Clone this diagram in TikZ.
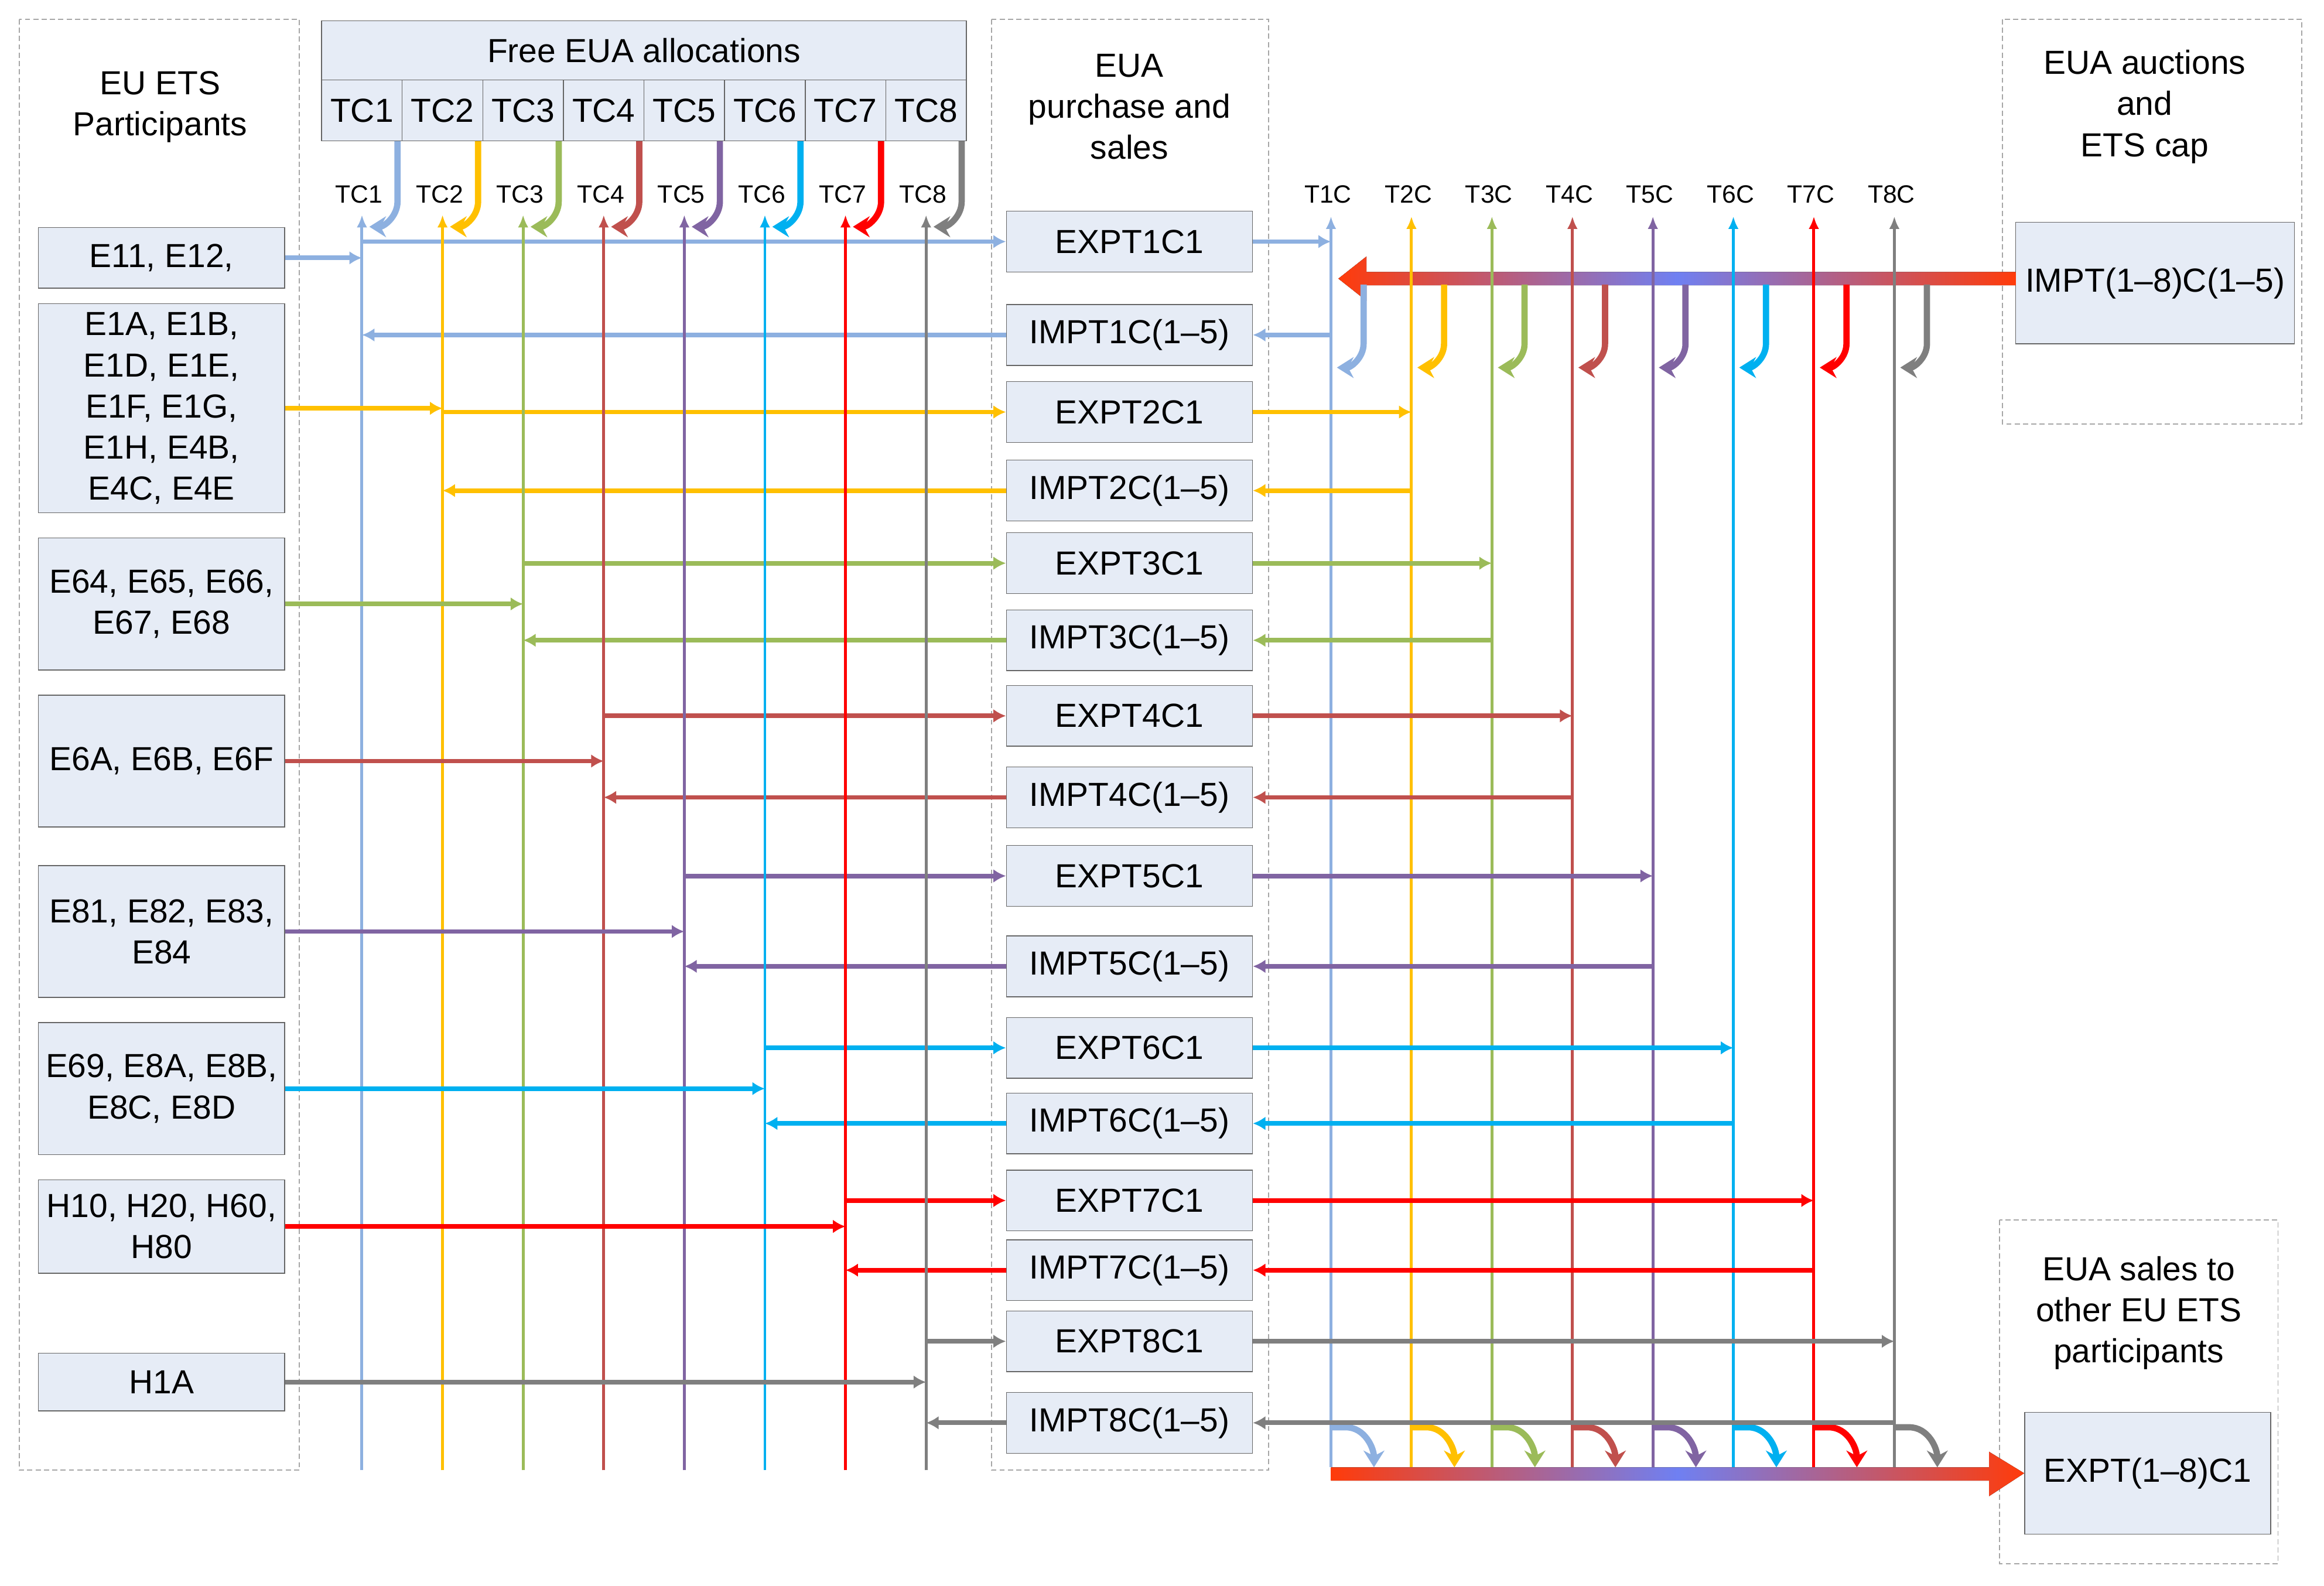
\documentclass[tikz,border=0pt]{standalone}
\usepackage{fontspec}
\setmainfont{Liberation Sans}
\usetikzlibrary{arrows.meta,calc}

\definecolor{tcblue}{HTML}{8DB0E0}
\definecolor{tcgold}{HTML}{FFC000}
\definecolor{tcgreen}{HTML}{9BBB59}
\definecolor{tcbrown}{HTML}{C0504D}
\definecolor{tcpurple}{HTML}{8064A2}
\definecolor{tccyan}{HTML}{00B0F0}
\definecolor{tcred}{HTML}{FF0000}
\definecolor{tcgray}{HTML}{7F7F7F}
\definecolor{boxfill}{HTML}{E6ECF6}
\definecolor{bigred}{HTML}{FF3B0A}
\definecolor{bigblue}{HTML}{6F80F2}

\begin{document}
\begin{tikzpicture}[x=0.025cm, y=-0.025cm,
	every node/.style={font=\fontsize{16}{19.7}\selectfont, align=center, inner sep=0pt},
	pbox/.style={rectangle, draw=gray!80!black, fill=boxfill, minimum width=4.15cm, minimum height=1.025cm},
	cell/.style={rectangle, draw=gray!80!black, fill=boxfill, minimum width=1.359cm, minimum height=1.025cm},
	frame/.style={draw=gray!70, dash pattern=on 2.5pt off 1.5pt, line width=0.5pt},
	small/.style={font=\fontsize{12}{14}\selectfont},
	vline/.style={line width=1.4pt, -{Latex[length=6pt,width=5pt]}},
	hflow/.style={line width=2.2pt, -{Latex[length=6pt,width=6.5pt]}},
	curlarrow/.style={line width=3pt, -{Stealth[length=8pt,width=10pt]}},
	bigarrow/.style={left color=bigred, right color=bigred, middle color=bigblue}]
	\useasboundingbox (0,0) rectangle (1568,1070);

	\draw[frame] (13,13) rectangle (202,992);
	\node (ttl1) at (108,72) {EU ETS\\Participants};
	\draw[frame] (669,13) rectangle (856,992);
	\node (ttl2) at (762,72) {EUA\\purchase and\\sales};
	\draw[frame] (1351,13) rectangle (1553,286);
	\node (ttl3) at (1447,72) {EUA auctions\\and\\ETS cap};
	\draw[frame] (1349,823) rectangle (1537,1055);
	\node (ttl4) at (1443,886) {EUA sales to\\other EU ETS\\participants};

	\node[pbox] (p1) at (109,174) {E11, E12,};
	\node[pbox, minimum height=3.525cm] (p2) at (109,275.5) {E1A, E1B,\\E1D, E1E,\\E1F, E1G,\\E1H, E4B,\\E4C, E4E};
	\node[pbox, minimum height=2.225cm] (p3) at (109,407.5) {E64, E65, E66,\\E67, E68};
	\node[pbox, minimum height=2.225cm] (p4) at (109,513.5) {E6A, E6B, E6F};
	\node[pbox, minimum height=2.225cm] (p5) at (109,628.5) {E81, E82, E83,\\E84};
	\node[pbox, minimum height=2.225cm] (p6) at (109,734.5) {E69, E8A, E8B,\\E8C, E8D};
	\node[pbox, minimum height=1.575cm] (p7) at (109,827.5) {H10, H20, H60,\\H80};
	\node[pbox, minimum height=0.975cm] (p8) at (109,932.5) {H1A};

	\node[pbox] (e1) at (762,163) {EXPT1C1};
	\node[pbox] (i1) at (762,226) {IMPT1C(1–5)};
	\node[pbox] (e2) at (762,278) {EXPT2C1};
	\node[pbox] (i2) at (762,331) {IMPT2C(1–5)};
	\node[pbox] (e3) at (762,380) {EXPT3C1};
	\node[pbox] (i3) at (762,432) {IMPT3C(1–5)};
	\node[pbox] (e4) at (762,483) {EXPT4C1};
	\node[pbox] (i4) at (762,538) {IMPT4C(1–5)};
	\node[pbox] (e5) at (762,591) {EXPT5C1};
	\node[pbox] (i5) at (762,652) {IMPT5C(1–5)};
	\node[pbox] (e6) at (762,707) {EXPT6C1};
	\node[pbox] (i6) at (762,758) {IMPT6C(1–5)};
	\node[pbox] (e7) at (762,810) {EXPT7C1};
	\node[pbox] (i7) at (762,857) {IMPT7C(1–5)};
	\node[pbox] (e8) at (762,905) {EXPT8C1};
	\node[pbox] (i8) at (762,960) {IMPT8C(1–5)};

	\node[pbox, minimum width=4.7cm, minimum height=2.05cm] (imp) at (1454,191) {IMPT(1–8)C(1–5)};
	\node[pbox, minimum height=2.05cm] (exp) at (1449,994) {EXPT(1–8)C1};

	\node[pbox, minimum width=10.875cm, minimum height=1cm] (free) at (434.5,34) {Free EUA allocations};
	\foreach \k in {1,...,8} {
		\node[cell] (h\k) at ({244.2+54.375*(\k-1)},74.5) {TC\k};
		\coordinate (ctop\k) at ({244.2+54.375*(\k-1)},145);
		\coordinate (cbot\k) at ({244.2+54.375*(\k-1)},992);
		\coordinate (ttop\k) at ({898+54.3*(\k-1)},146);
		\coordinate (tbot\k) at ({898+54.3*(\k-1)},990);
		\node[small] (lc\k) at ($(ctop\k)+(-2,-14)$) {TC\k};
		\node[small] (lt\k) at ($(ttop\k)+(-2,-15)$) {T\k C};
	}

	\fill[bigarrow] (1360,183.5) -- (922,183.5) -- (922,173) -- (903,188) -- (922,203) -- (922,192.5) -- (1360,192.5) -- cycle;
	\fill[bigarrow] (898,990) -- (1342,990) -- (1342,979.5) -- (exp.west) -- (1342,1009.5) -- (1342,999) -- (898,999) -- cycle;

	\foreach \k/\col in {1/tcblue,2/tcgold,3/tcgreen,4/tcbrown,5/tcpurple,6/tccyan,7/tcred,8/tcgray} {
		\draw[hflow, draw=\col] (p\k.east) -- (p\k.east -| ctop\k);
		\draw[hflow, draw=\col] (e\k.west -| ctop\k) -- (e\k.west);
		\draw[hflow, draw=\col] (i\k.west) -- (i\k.west -| ctop\k);
		\draw[hflow, draw=\col] (e\k.east) -- (e\k.east -| ttop\k);
		\draw[hflow, draw=\col] (i\k.east -| ttop\k) -- (i\k.east);
		\draw[vline, draw=\col] (cbot\k) -- (ctop\k);
		\draw[vline, draw=\col] (tbot\k) -- (ttop\k);
		\draw[curlarrow, draw=\col] ($(h\k.south)+(24,0)$) -- ($(ctop\k)+(24,-9)$) to[out=-90,in=0] ($(ctop\k)+(5,8)$);
		\draw[curlarrow, draw=\col] ($(ttop\k)+(22,46)$) -- ($(ttop\k)+(22,86)$) to[out=-90,in=0] ($(ttop\k)+(4,102)$);
		\draw[curlarrow, draw=\col] ($(tbot\k)+(0,-27)$) -- ($(tbot\k)+(10,-27)$) to[out=0,in=90] ($(tbot\k)+(29,0)$);
	}
\end{tikzpicture}
\end{document}
